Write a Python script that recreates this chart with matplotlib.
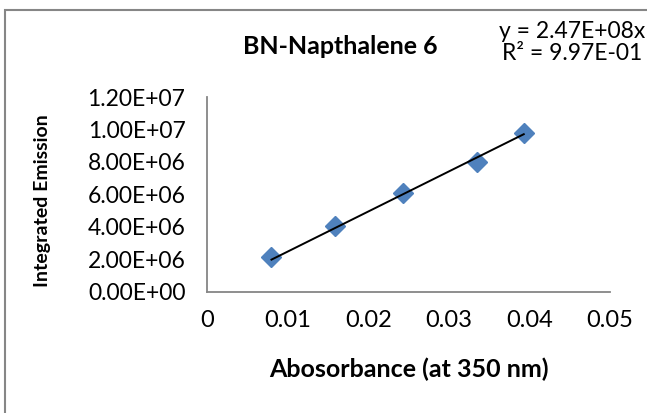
import matplotlib
matplotlib.use('Agg')
import matplotlib.pyplot as plt
from matplotlib.patches import Rectangle
import numpy as np

# Absorbance vs integrated emission
absorbance = [0.0080, 0.0159, 0.0243, 0.0335, 0.0393]
emission   = [2.12e6, 4.05e6, 6.10e6, 7.98e6, 9.80e6]
slope      = 2.47e8
r_squared  = 0.997

x_ticks = [0, 0.01, 0.02, 0.03, 0.04, 0.05]
x_tick_labels = ['0', '0.01', '0.02', '0.03', '0.04', '0.05']
y_ticks = [0, 2e6, 4e6, 6e6, 8e6, 1e7, 1.2e7]
y_tick_labels = ['0.00E+00', '2.00E+06', '4.00E+06', '6.00E+06',
                 '8.00E+06', '1.00E+07', '1.20E+07']

W, H = 647, 413
plt.rcParams['font.family'] = ['Lato', 'DejaVu Sans']

fig = plt.figure(figsize=(W / 100, H / 100), dpi=100)
ax_l, ax_b, ax_r, ax_t = 207, 291.7, 610, 97   # plot area in pixels
ax = fig.add_axes([ax_l / W, 1 - ax_b / H, (ax_r - ax_l) / W, (ax_b - ax_t) / H])

ax.plot(absorbance, emission, linestyle='none', marker='D', markersize=10.5,
        color='#4F81BD', markeredgecolor='#4F81BD', zorder=2)

# linear trendline through origin, over the data range
tx = np.array([min(absorbance), max(absorbance)])
ax.plot(tx, slope * tx, color='black', linewidth=1.4, zorder=3)

ax.set_xlim(0, 0.05)
ax.set_ylim(0, 1.2e7)
ax.set_xticks(x_ticks)
ax.set_xticklabels(x_tick_labels, fontsize=17)
ax.set_yticks(y_ticks)
ax.set_yticklabels(y_tick_labels, fontsize=16.5)
ax.tick_params(axis='x', length=0, pad=13)
ax.tick_params(axis='y', length=0, pad=15.5)

for s in ['top', 'right']:
    ax.spines[s].set_visible(False)
for s in ['left', 'bottom']:
    ax.spines[s].set_color('#868686')
    ax.spines[s].set_linewidth(1.3)

ax.set_xlabel('Abosorbance (at 350 nm)', fontsize=18, fontweight='bold')
ax.xaxis.label.set_va('center')
ax.xaxis.set_label_coords(0.5, (ax_b - 369) / (ax_b - ax_t))
ax.set_ylabel('Integrated Emission', fontsize=14, fontweight='bold')
ax.yaxis.label.set_va('center')
ax.yaxis.set_label_coords((43 - ax_l) / (ax_r - ax_l), 0.47)

fig.text(340 / W, 1 - 47 / H, 'BN-Napthalene 6', fontsize=18, fontweight='bold',
         ha='center', va='center')
fig.text(645 / W, 1 - 32 / H, 'y = 2.47E+08x', fontsize=16.5, ha='right', va='center')
fig.text(642 / W, 1 - 53 / H, 'R² = 9.97E-01', fontsize=16.5, ha='right', va='center')

# chart-area border
fig.add_artist(Rectangle((5 / W, -0.1), 1.1, 1 - 10 / H + 0.1,
                         transform=fig.transFigure, fill=False,
                         edgecolor='#868686', linewidth=1.5))

fig.savefig('out.png', dpi=100)
